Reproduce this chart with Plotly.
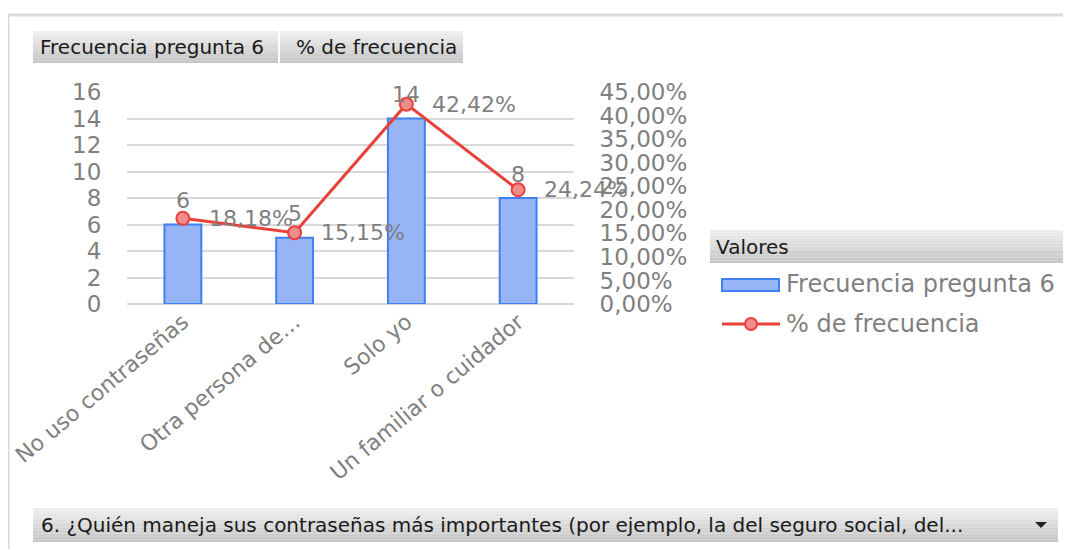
import plotly.graph_objects as go

categories = ["No uso contraseñas", "Otra persona de…", "Solo yo", "Un familiar o cuidador"]
frecuencia = [6, 5, 14, 8]
porcentaje = [0.1818, 0.1515, 0.4242, 0.2424]

OFF = 8  # page body margin
W, H = 1071 - OFF, 549 - OFF
L, R, T, B = 127, 574, 92, 304  # plot area, in screen pixels

GRAY = "#7f7f7f"
FONT = "DejaVu Sans"
BAR_FILL = "#97b5f6"
BAR_LINE = "#3f7fef"
RED = "#e8413a"
PINK = "#f08c8a"


def px(x):
    return (x - L) / (R - L)


def py(y):
    return (B - y) / (B - T)


def pct(v):
    return f"{v * 100:.2f}".replace(".", ",") + "%"


fig = go.Figure()
fig.add_trace(go.Bar(
    x=categories, y=frecuencia, width=0.33,
    marker=dict(color=BAR_FILL, line=dict(color=BAR_LINE, width=2)),
    name="Frecuencia pregunta 6", showlegend=False, hoverinfo="skip",
))
fig.add_trace(go.Scatter(
    x=categories, y=porcentaje, yaxis="y2", mode="lines+markers",
    line=dict(color=RED, width=3),
    marker=dict(size=13, color=PINK, line=dict(color=RED, width=2)),
    name="% de frecuencia", showlegend=False, hoverinfo="skip",
))

annotations = []
for c, v in zip(categories, frecuencia):
    annotations.append(dict(x=c, y=v, xref="x", yref="y", text=str(v),
                            showarrow=False, yshift=24,
                            font=dict(family=FONT, size=22, color=GRAY)))
for c, v in zip(categories, porcentaje):
    annotations.append(dict(x=c, y=v, xref="x", yref="y2", text=pct(v),
                            showarrow=False, xanchor="left", xshift=24,
                            font=dict(family=FONT, size=22, color=GRAY)))

shapes = []


def button(x0, y0, x1, y1):
    # grey gradient faked with thin horizontal bands
    n = 12
    h = (y1 - y0) / n
    for i in range(n):
        g = int(238 - (238 - 198) * i / (n - 1))
        shapes.append(dict(type="rect", xref="paper", yref="paper",
                           x0=px(x0), x1=px(x1), y0=py(y0 + (i + 1) * h), y1=py(y0 + i * h),
                           fillcolor=f"rgb({g},{g},{g})", line=dict(width=0), layer="below"))


# chart frame
shapes.append(dict(type="line", xref="paper", yref="paper", x0=px(8), x1=px(1080),
                   y0=py(15), y1=py(15), line=dict(color="#d9d9d9", width=3)))
shapes.append(dict(type="line", xref="paper", yref="paper", x0=px(8), x1=px(8),
                   y0=py(15), y1=py(560), line=dict(color="#d9d9d9", width=3)))

button(33, 31, 278, 63)
button(280, 31, 463, 63)
button(710, 230, 1063, 263)
button(33, 508, 1058, 542)

# legend swatches
shapes.append(dict(type="rect", xref="paper", yref="paper", x0=px(722), x1=px(779),
                   y0=py(291), y1=py(279), fillcolor=BAR_FILL,
                   line=dict(color=BAR_LINE, width=2)))
shapes.append(dict(type="line", xref="paper", yref="paper", x0=px(722), x1=px(780),
                   y0=py(324), y1=py(324), line=dict(color=RED, width=3)))
shapes.append(dict(type="circle", xref="paper", yref="paper", x0=px(745), x1=px(757),
                   y0=py(330), y1=py(318), fillcolor=PINK, line=dict(color=RED, width=2)))

# dropdown arrow
shapes.append(dict(type="path", xref="paper", yref="paper",
                   path=f"M {px(1035)} {py(522)} L {px(1047)} {py(522)} L {px(1041)} {py(528)} Z",
                   fillcolor="#222222", line=dict(width=0)))

BLACK_TXT = dict(family=FONT, size=20, color="#1a1a1a")
LEG_TXT = dict(family=FONT, size=24, color=GRAY)
annotations += [
    dict(x=px(38), y=py(47), xref="paper", yref="paper", text="Frecuencia pregunta 6",
         xanchor="left", yanchor="middle", showarrow=False, font=BLACK_TXT),
    dict(x=px(294), y=py(47), xref="paper", yref="paper", text="% de frecuencia",
         xanchor="left", yanchor="middle", showarrow=False, font=BLACK_TXT),
    dict(x=px(714), y=py(247), xref="paper", yref="paper", text="Valores",
         xanchor="left", yanchor="middle", showarrow=False, font=BLACK_TXT),
    dict(x=px(39), y=py(525), xref="paper", yref="paper",
         text="6. ¿Quién maneja sus contraseñas más importantes (por ejemplo, la del seguro social, del...",
         xanchor="left", yanchor="middle", showarrow=False, font=BLACK_TXT),
    dict(x=px(784), y=py(284), xref="paper", yref="paper", text="Frecuencia pregunta 6",
         xanchor="left", yanchor="middle", showarrow=False, font=LEG_TXT),
    dict(x=px(784), y=py(324), xref="paper", yref="paper", text="% de frecuencia",
         xanchor="left", yanchor="middle", showarrow=False, font=LEG_TXT),
]

fig.update_layout(
    width=W, height=H,
    margin=dict(l=L - OFF, r=W - (R - OFF), t=T - OFF, b=H - (B - OFF), pad=0, autoexpand=False),
    paper_bgcolor="white", plot_bgcolor="white",
    separators=",.",
    showlegend=False,
    xaxis=dict(tickangle=-40, tickfont=dict(family=FONT, size=22, color=GRAY),
               showgrid=False, showline=False, ticks="", ticklen=0,
               range=[-0.5, 3.5], automargin=False),
    yaxis=dict(range=[0, 16], dtick=2, tickfont=dict(family=FONT, size=23, color=GRAY),
               gridcolor="#d9d9d9", gridwidth=2, zeroline=True, zerolinecolor="#d9d9d9",
               zerolinewidth=2, ticks="outside", ticklen=20, tickcolor="white",
               automargin=False),
    yaxis2=dict(range=[0, 0.45], dtick=0.05, tickformat=".2%", overlaying="y", side="right",
                tickfont=dict(family=FONT, size=23, color=GRAY), showgrid=False,
                zeroline=False, ticks="outside", ticklen=20, tickcolor="white",
                automargin=False),
    shapes=shapes, annotations=annotations,
)

fig.write_html("out.html")
